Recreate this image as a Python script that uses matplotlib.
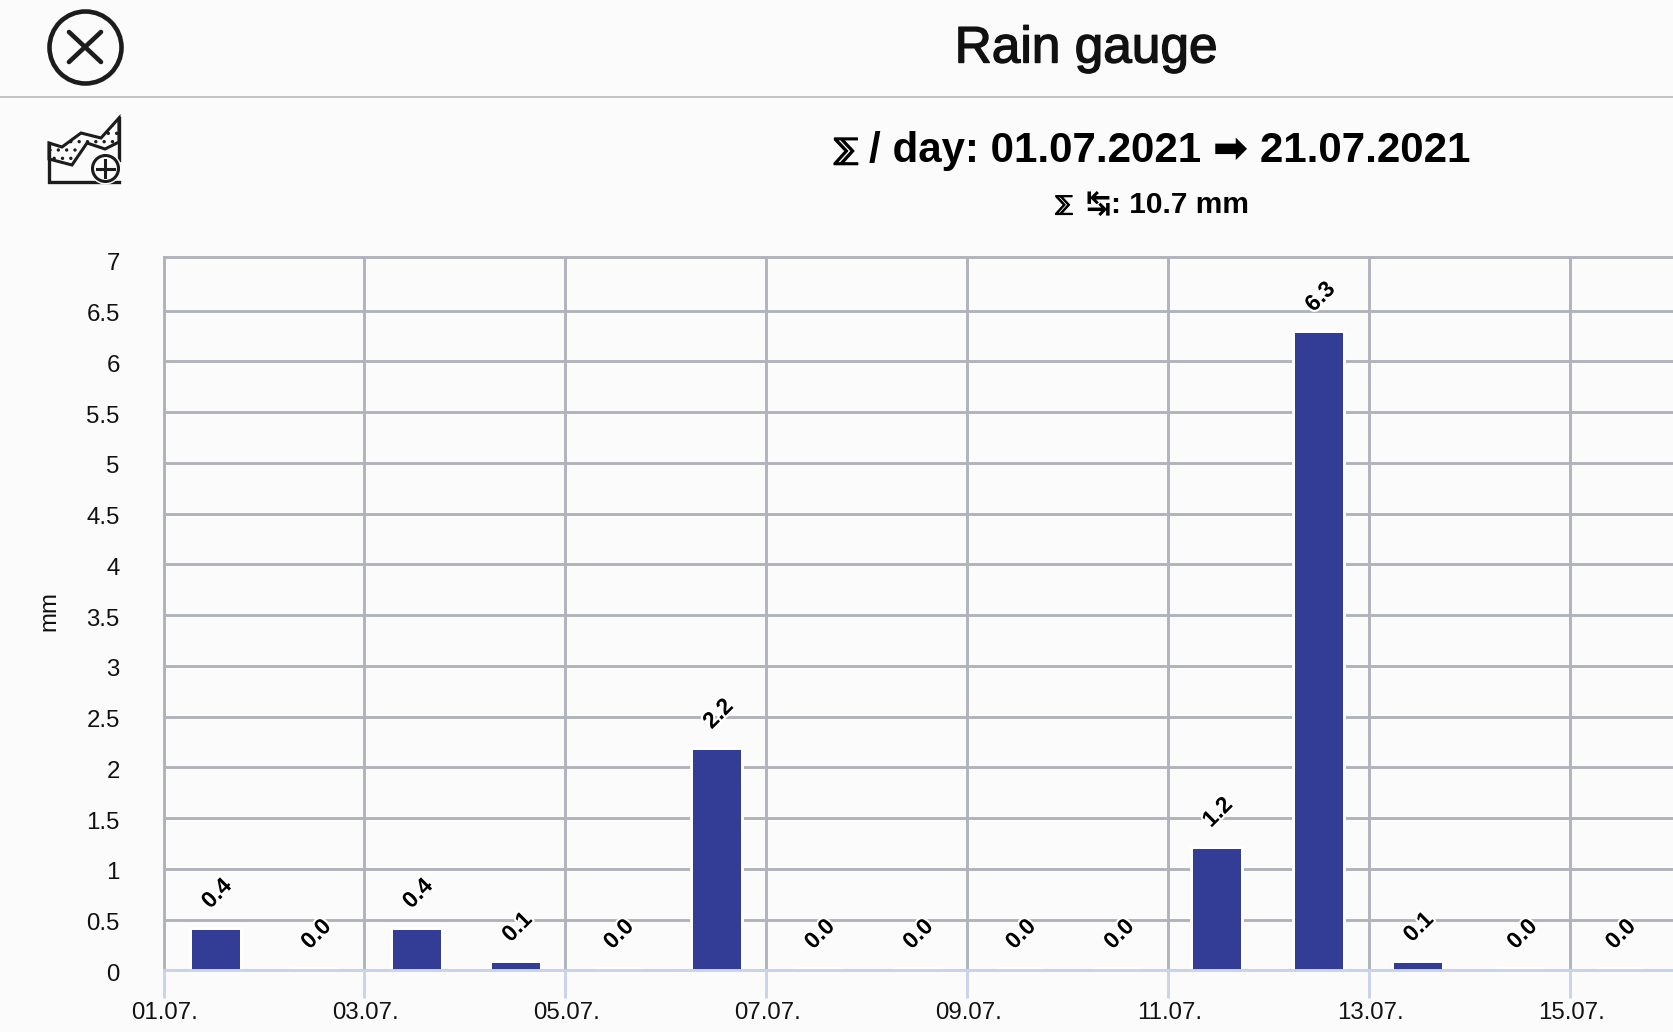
import matplotlib
matplotlib.use("Agg")
import matplotlib.pyplot as plt
import matplotlib.patheffects as pe
import matplotlib.transforms as mtrans
from matplotlib.patches import Circle, Polygon

W, H, DPI = 1674, 1032, 100
BG = "#fbfbfb"
GRID = "#b0b3ba"
AXIS = "#c9d3ec"
BAR = "#333d96"
INK = "#1c1c1c"
FONT = ["Liberation Sans", "DejaVu Sans"]

title = "Rain gauge"
sigma = "\u2140"
subtitle = "/ day: 01.07.2021 \u27a1 21.07.2021"
total_line = "\u21b9: 10.7 mm"
y_label = "mm"

days = ["01.07.", "02.07.", "03.07.", "04.07.", "05.07.", "06.07.", "07.07.", "08.07.",
        "09.07.", "10.07.", "11.07.", "12.07.", "13.07.", "14.07.", "15.07."]
rain_mm = [0.4, 0.0, 0.4, 0.07, 0.0, 2.17, 0.0, 0.0, 0.0, 0.0, 1.2, 6.28, 0.07, 0.0, 0.0]
y_ticks = [0, 0.5, 1, 1.5, 2, 2.5, 3, 3.5, 4, 4.5, 5, 5.5, 6, 6.5, 7]
y_tick_labels = ["0", "0.5", "1", "1.5", "2", "2.5", "3", "3.5", "4", "4.5", "5", "5.5", "6", "6.5", "7"]

plt.rcParams["font.family"] = FONT
fig = plt.figure(figsize=(W / DPI, H / DPI), dpi=DPI, facecolor=BG)

# chart area, clipped by the right figure edge as in the original
x0, x1, ytop, ybot = 163.5, 1674, 256.7, 970.3
day_px = 100.5
unit_px = 101.5
ax = fig.add_axes([x0 / W, 1 - ybot / H, (x1 - x0) / W, (ybot - ytop) / H], facecolor=BG)
ax.set_xlim(0, (x1 - x0) / day_px)
ax.set_ylim(0, (ybot - ytop) / unit_px)

lw = 2.1
ax.set_axisbelow(True)
ax.grid(True, color=GRID, linewidth=lw)
ax.set_xticks(range(0, len(days), 2))
ax.set_xticklabels(days[::2], fontsize=17.3, color="#111111")
ax.set_yticks(y_ticks)
ax.set_yticklabels(y_tick_labels, fontsize=17.3, color="#111111")
ax.yaxis.get_gridlines()[-1].set_visible(False)
ax.tick_params(axis="x", length=20, width=lw, color=AXIS, pad=3)
ax.tick_params(axis="y", length=0, pad=31.5)
for lab in ax.get_yticklabels():
    lab.set_transform(lab.get_transform() + mtrans.ScaledTranslation(0, -2 / DPI, fig.dpi_scale_trans))
for lab in ax.get_xticklabels():
    lab.set_transform(lab.get_transform() + mtrans.ScaledTranslation(1 / DPI, 0, fig.dpi_scale_trans))

ax.spines["right"].set_visible(False)
for s in ("left", "top"):
    ax.spines[s].set_color(GRID)
    ax.spines[s].set_linewidth(lw)
ax.spines["bottom"].set_color(AXIS)
ax.spines["bottom"].set_linewidth(lw)
ax.spines["bottom"].set_zorder(6)

# the original's bar centres drift by a pixel or two around mid-day
nudge = [.021, .01, .021, .01, .021, .01, .021, 0, .021, 0, -.021, 0, -.021, .01, -.01]
positions = [i + 0.5 + n for i, n in enumerate(nudge)]
ax.bar(positions, rain_mm, width=0.475, color=BAR, linewidth=0, zorder=3,
       path_effects=[pe.withStroke(linewidth=4.2, foreground="white")])
for xp, v in zip(positions, rain_mm):
    ax.annotate(f"{v:.1f}", (xp, v), xytext=(0.7, 26), textcoords="offset points",
                ha="center", va="center", rotation=45, rotation_mode="anchor",
                fontsize=16.5, fontweight="bold", color="black", zorder=7,
                path_effects=[pe.withStroke(linewidth=3, foreground="white")])

# overlay in pixel coordinates for header, text and icons
ov = fig.add_axes([0, 0, 1, 1], facecolor="none")
ov.set_xlim(0, W)
ov.set_ylim(H, 0)
ov.axis("off")
ov.plot([0, W], [96.5, 96.5], color="#b4b4b4", lw=1.1)

ov.text(1086, 49, title, ha="center", va="center", fontsize=37, color="#111111",
        path_effects=[pe.withStroke(linewidth=1.0, foreground="#111111")])
ov.text(846, 151, sigma, ha="center", va="center", fontsize=21, fontweight="bold", color="black",
        path_effects=[pe.withStroke(linewidth=1.0, foreground="black")])
ov.text(1170, 151, subtitle, ha="center", va="center", fontsize=30.3, fontweight="bold", color="black")
ov.text(1064, 205, sigma, ha="center", va="center", fontsize=15, fontweight="bold", color="black",
        path_effects=[pe.withStroke(linewidth=0.8, foreground="black")])
ov.text(1168, 205, total_line, ha="center", va="center", fontsize=21.5, fontweight="bold", color="black")
ov.text(49.5, 611, y_label, ha="center", va="center", rotation=90, fontsize=17.3, color="#111111")

# close icon
ov.add_patch(Circle((85.5, 47.5), 36, fill=False, ec=INK, lw=3.3))
ov.plot([69, 101], [32, 62], color=INK, lw=3.3, solid_capstyle="round")
ov.plot([69, 101], [62, 32], color=INK, lw=3.3, solid_capstyle="round")

# zoom-chart icon
plt.rcParams["hatch.linewidth"] = 1.2
band = [(49, 143), (62, 147), (81, 133), (101, 138), (119, 118), (119, 142), (105, 149), (87, 143), (72, 165), (49, 159)]
ov.add_patch(Polygon(band, closed=True, fc=BG, ec=INK, lw=2.2, hatch="..", joinstyle="miter"))
ov.plot([49, 49, 119], [143, 182, 182], color=INK, lw=2.4, solid_joinstyle="miter")
ov.plot([119, 119], [118, 160], color=INK, lw=2.4)
ov.add_patch(Circle((105.5, 168.5), 16, fc=BG, ec="none", zorder=4))
ov.add_patch(Circle((105.5, 168.5), 13, fc=BG, ec=INK, lw=2.2, zorder=5))
ov.plot([97, 114], [168.5, 168.5], color=INK, lw=2.2, zorder=6)
ov.plot([105.5, 105.5], [160, 177], color=INK, lw=2.2, zorder=6)

fig.savefig("out.png", dpi=DPI, facecolor=BG)
